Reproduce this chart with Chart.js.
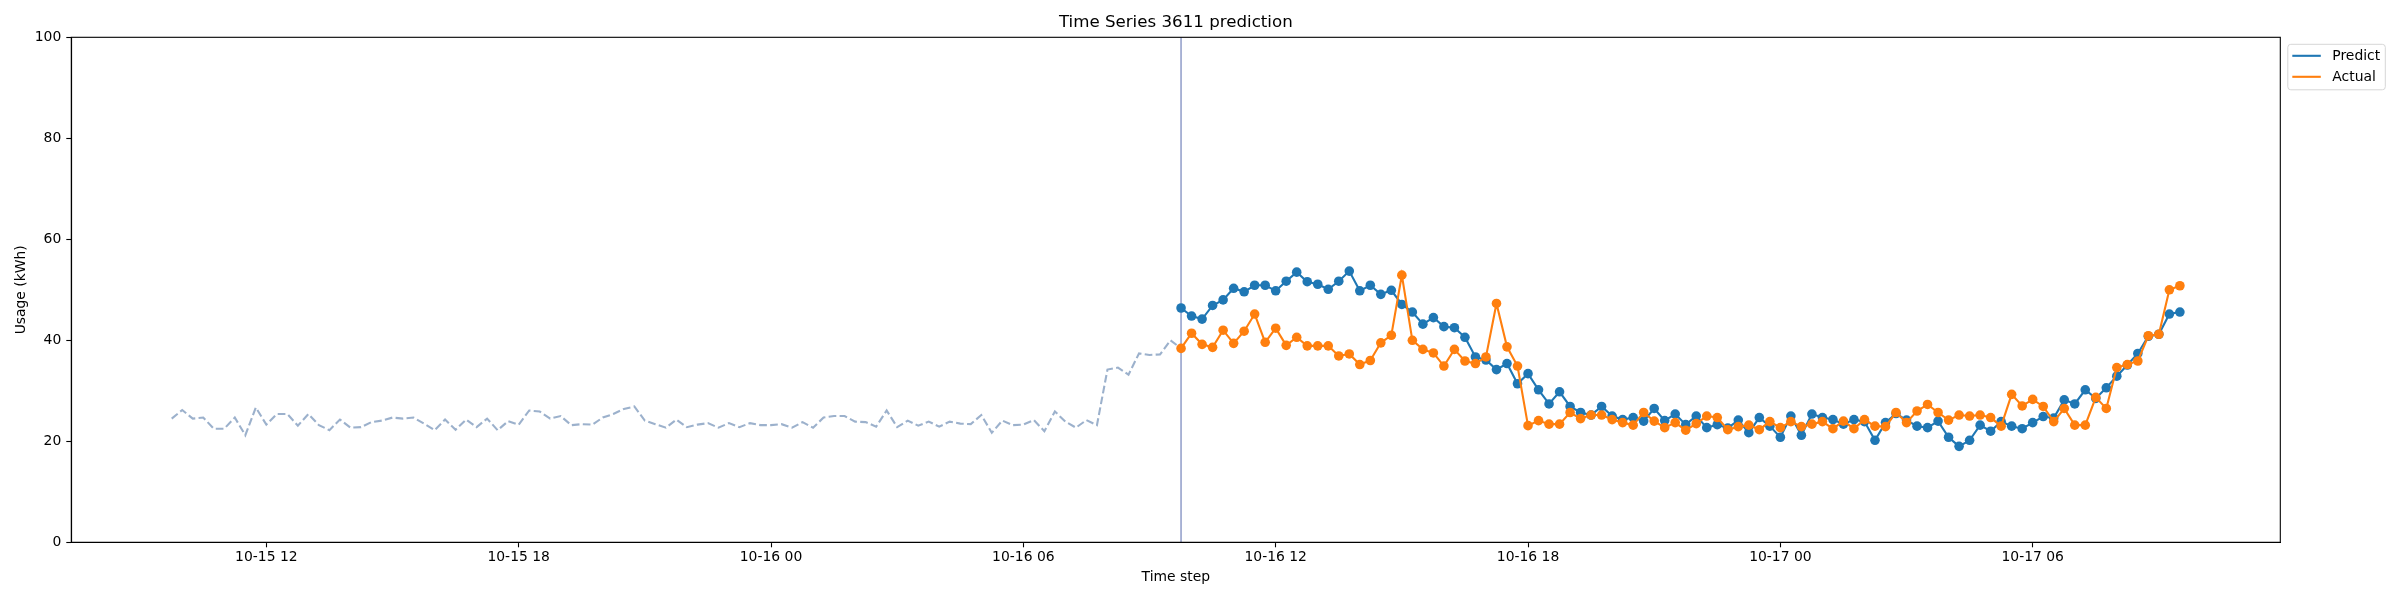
<!DOCTYPE html>
<html>
<head>
<meta charset="utf-8">
<script src="https://cdn.jsdelivr.net/npm/chart.js@4.4.1/dist/chart.umd.min.js"></script>
<style>
  html, body { margin: 0; padding: 0; background: #ffffff; }
  #wrap { width: 2400px; height: 600px; }
</style>
</head>
<body>
<div id="wrap"><canvas id="c" width="2400" height="600"></canvas></div>
<script>
// ---------------- data ----------------
const chartTitle = 'Time Series 3611 prediction';
const xAxisTitle = 'Time step';
const yAxisTitle = 'Usage (kWh)';
const seriesNames = ['Predict', 'Actual'];

// 15-minute history (10-15 09:45 .. 10-16 09:45)
const historyStart = '10-15 09:45';
const historyValues = [
  24.5, 26.2, 24.5, 24.7, 22.5, 22.5, 24.7, 21.2, 26.7, 23.3, 25.4, 25.4, 23.1, 25.4, 23.2, 22.2,
  24.3, 22.7, 22.8, 23.8, 24.1, 24.7, 24.5, 24.7, 23.5, 22.2, 24.3, 22.3, 24.3, 22.8, 24.5, 22.2, 24.0,
  23.3, 26.1, 25.9, 24.5, 25.0, 23.2, 23.4, 23.3, 24.7, 25.4, 26.4, 26.9, 24.1, 23.4, 22.7, 24.3,
  22.8, 23.3, 23.6, 22.7, 23.6, 22.8, 23.6, 23.2, 23.2, 23.4, 22.7, 23.8, 22.7, 24.7, 25.0, 25.0,
  23.9, 23.8, 22.9, 26.1, 22.8, 24.1, 23.1, 23.9, 22.9, 23.9, 23.5, 23.4, 25.2, 21.7, 24.1, 23.2,
  23.3, 24.2, 22.0, 25.9, 23.9, 22.7, 24.2, 23.2, 34.2, 34.6, 33.2, 37.4, 37.1, 37.2, 40.0, 38.4
];

// 15-minute forecast window (10-16 09:45 .. 10-17 09:30)
const forecastStart = '10-16 09:45';
const predictValues = [
  46.4, 44.8, 44.2, 46.9, 48.0, 50.3, 49.6, 50.9, 50.9, 49.8, 51.7, 53.5, 51.6, 51.1, 50.1, 51.7,
  53.7, 49.8, 50.9, 49.1, 49.9, 47.1, 45.6, 43.2, 44.5, 42.7, 42.5, 40.6, 36.7, 36.1, 34.2, 35.4,
  31.4, 33.4, 30.2, 27.4, 29.8, 26.9, 25.7, 25.2, 26.9,
  25.0, 24.3, 24.7, 24.0, 26.5, 24.1, 25.4, 23.3, 25.0, 22.7, 23.3, 22.6, 24.2, 21.7, 24.7, 23.0, 20.8,
  25.0, 21.2, 25.4, 24.7, 24.3, 23.4, 24.3, 23.9, 20.2, 23.7, 25.5, 24.2, 23.0, 22.7, 24.0, 20.8,
  19.0, 20.2, 23.2, 22.0, 23.9, 23.0, 22.5, 23.7, 24.9,
  24.6, 28.2, 27.4, 30.2, 28.5, 30.6, 32.9, 35.1, 37.4, 40.8, 41.2, 45.2, 45.6
];
const actualValues = [
  38.4, 41.4, 39.2, 38.6, 42.0, 39.4, 41.8, 45.2, 39.6, 42.4, 39.0, 40.6, 38.9, 38.9, 38.9, 36.9,
  37.3, 35.2, 36.0, 39.5, 41.0, 52.9, 40.0, 38.2, 37.5, 34.9, 38.2, 35.9, 35.4, 36.7, 47.3, 38.7,
  34.9, 23.1, 24.1, 23.4, 23.4, 25.7, 24.5, 25.2, 25.2,
  24.3, 23.7, 23.2, 25.7, 24.0, 22.7, 23.7, 22.2, 23.5, 25.0, 24.7, 22.3, 22.9, 23.2, 22.3, 23.9, 22.7,
  23.9, 22.9, 23.4, 23.9, 22.5, 24.0, 22.5, 24.3, 23.0, 22.9, 25.7, 23.7, 26.0, 27.3, 25.7, 24.2,
  25.2, 25.0, 25.2, 24.7, 23.0, 29.3, 27.0, 28.3, 26.9,
  23.9, 26.5, 23.2, 23.2, 28.7, 26.5, 34.6, 35.2, 35.9, 40.9, 41.2, 50.0, 50.8
];

const xTickLabels = ['10-15 12', '10-15 18', '10-16 00', '10-16 06', '10-16 12', '10-16 18', '10-17 00', '10-17 06'];
const yTickValues = [0, 20, 40, 60, 80, 100];
const stepMinutes = 15;

// ---------------- helpers ----------------
// hours since 10-15 00:00
function toHours(label) {
  const m = label.match(/(\d+)-(\d+)\s+(\d+)(?::(\d+))?/);
  const day = parseInt(m[2], 10);
  const hh = parseInt(m[3], 10);
  const mm = m[4] ? parseInt(m[4], 10) : 0;
  return (day - 15) * 24 + hh + mm / 60;
}
function toPoints(startLabel, values) {
  const t0 = toHours(startLabel);
  return values.map((v, i) => ({ x: t0 + i * stepMinutes / 60, y: v }));
}
const historyPts = toPoints(historyStart, historyValues);
const predictPts = toPoints(forecastStart, predictValues);
const actualPts = toPoints(forecastStart, actualValues);
const splitX = predictPts[0].x;
const tickHours = xTickLabels.map(toHours);

// matplotlib-like 5% margins
const allX = historyPts.concat(predictPts).map(p => p.x);
const xLo = Math.min(...allX), xHi = Math.max(...allX);
const xPad = (xHi - xLo) * 0.05;

const FONT = 'DejaVu Sans';
const colPredict = '#1f77b4';
const colActual = '#ff7f0e';

// ---------------- plugins ----------------
const framePlugin = {
  id: 'frame',
  afterDatasetsDraw(chart) {
    const a = chart.chartArea, ctx = chart.ctx;
    ctx.save();
    ctx.strokeStyle = '#000';
    ctx.lineWidth = 1.1;
    ctx.strokeRect(a.left, a.top, a.right - a.left, a.bottom - a.top);
    ctx.restore();
  }
};

const legendPlugin = {
  id: 'mplLegend',
  afterDraw(chart) {
    const ctx = chart.ctx, a = chart.chartArea;
    const x0 = a.right + 7.5, y0 = a.top + 7;
    const w = 97.5, h = 45.5;
    ctx.save();
    ctx.beginPath();
    const r = 3;
    ctx.moveTo(x0 + r, y0);
    ctx.lineTo(x0 + w - r, y0); ctx.quadraticCurveTo(x0 + w, y0, x0 + w, y0 + r);
    ctx.lineTo(x0 + w, y0 + h - r); ctx.quadraticCurveTo(x0 + w, y0 + h, x0 + w - r, y0 + h);
    ctx.lineTo(x0 + r, y0 + h); ctx.quadraticCurveTo(x0, y0 + h, x0, y0 + h - r);
    ctx.lineTo(x0, y0 + r); ctx.quadraticCurveTo(x0, y0, x0 + r, y0);
    ctx.closePath();
    ctx.fillStyle = 'rgba(255,255,255,0.8)';
    ctx.fill();
    ctx.strokeStyle = '#d6d6d6';
    ctx.lineWidth = 1;
    ctx.stroke();
    const items = [[seriesNames[0], colPredict], [seriesNames[1], colActual]];
    items.forEach((it, i) => {
      const yy = y0 + 11.5 + i * 21;
      ctx.strokeStyle = it[1];
      ctx.lineWidth = 2.1;
      ctx.beginPath();
      ctx.moveTo(x0 + 4.5, yy);
      ctx.lineTo(x0 + 33, yy);
      ctx.stroke();
      ctx.fillStyle = '#000';
      ctx.font = '13.9px "' + FONT + '"';
      ctx.textBaseline = 'middle';
      ctx.textAlign = 'left';
      ctx.fillText(it[0], x0 + 44.5, yy + 0.5);
    });
    ctx.restore();
  }
};

// ---------------- chart ----------------
new Chart(document.getElementById('c'), {
  type: 'line',
  data: {
    datasets: [
      {
        label: seriesNames[1],
        data: actualPts,
        borderColor: colActual,
        backgroundColor: colActual,
        borderWidth: 2.1,
        pointRadius: 4.8,
        pointBorderWidth: 0,
        pointBackgroundColor: colActual,
        tension: 0,
        order: 0
      },
      {
        label: seriesNames[0],
        data: predictPts,
        borderColor: colPredict,
        backgroundColor: colPredict,
        borderWidth: 2.1,
        pointRadius: 4.8,
        pointBorderWidth: 0,
        pointBackgroundColor: colPredict,
        tension: 0,
        order: 1
      },
      {
        label: 'split',
        data: [{ x: splitX, y: yTickValues[0] }, { x: splitX, y: yTickValues[yTickValues.length - 1] }],
        borderColor: '#a2add2',
        borderWidth: 1.8,
        pointRadius: 0,
        tension: 0,
        order: 2
      },
      {
        label: 'history',
        data: historyPts,
        borderColor: '#9cb1cc',
        borderWidth: 2.1,
        borderDash: [7.7, 3.3],
        pointRadius: 0,
        tension: 0,
        order: 3
      }
    ]
  },
  options: {
    responsive: false,
    animation: false,
    devicePixelRatio: 1,
    layout: { padding: { left: 0, right: 119.7, top: 0, bottom: 0 } },
    plugins: {
      legend: { display: false },
      tooltip: { enabled: false },
      title: {
        display: true,
        text: chartTitle,
        fullSize: false,
        color: '#000',
        font: { family: FONT, size: 16.67, weight: 'normal', lineHeight: 1.2 },
        padding: { top: 12.7, bottom: 4.6 }
      }
    },
    scales: {
      x: {
        type: 'linear',
        min: xLo - xPad,
        max: xHi + xPad,
        afterBuildTicks(scale) { scale.ticks = tickHours.map(v => ({ value: v })); },
        afterFit(scale) { scale.height = 57.7; },
        ticks: {
          color: '#000',
          font: { family: FONT, size: 13.9 },
          padding: 2,
          maxRotation: 0,
          autoSkip: false,
          callback(value) {
            const i = tickHours.indexOf(value);
            return i >= 0 ? xTickLabels[i] : '';
          }
        },
        grid: { display: true, drawOnChartArea: false, drawTicks: true, tickLength: 5, color: '#000', tickWidth: 1.1 },
        border: { display: true, color: '#000', width: 1.1 },
        title: {
          display: true,
          text: xAxisTitle,
          color: '#000',
          font: { family: FONT, size: 13.9, lineHeight: 1.2 },
          padding: { top: 0, bottom: 14.7 }
        }
      },
      y: {
        type: 'linear',
        min: yTickValues[0],
        max: yTickValues[yTickValues.length - 1],
        afterBuildTicks(scale) { scale.ticks = yTickValues.map(v => ({ value: v })); },
        afterFit(scale) { scale.width = 71.3; },
        ticks: {
          color: '#000',
          font: { family: FONT, size: 13.9 },
          padding: 5
        },
        grid: { display: true, drawOnChartArea: false, drawTicks: true, tickLength: 5, color: '#000', tickWidth: 1.1 },
        border: { display: true, color: '#000', width: 1.1 },
        title: {
          display: true,
          text: yAxisTitle,
          color: '#000',
          font: { family: FONT, size: 13.9, lineHeight: 1.2 },
          padding: { top: 13, bottom: 0 }
        }
      }
    }
  },
  plugins: [framePlugin, legendPlugin]
});
</script>
</body>
</html>
